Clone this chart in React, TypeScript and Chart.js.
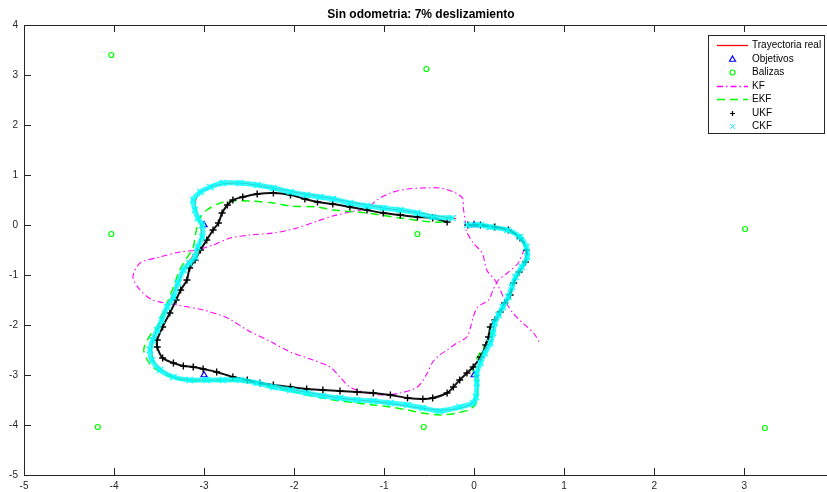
import React, { useEffect, useRef } from 'react';
import { Chart, registerables } from 'chart.js';

Chart.register(...registerables);

const xTickValues = [-5, -4, -3, -2, -1, 0, 1, 2, 3, 4];
const yTickValues = [-5, -4, -3, -2, -1, 0, 1, 2, 3, 4];

const realX = [-0.05, 0.1, 0.3, 0.5, 0.58, 0.57, 0.48, 0.41, 0.33, 0.24, 0.19, 0.1, 0.05, 0.04, 0.03, -0.05, -0.3, -0.6, -1.0, -1.5, -2.0, -2.4, -2.7, -3.1, -3.35, -3.55, -3.58, -3.5, -3.4, -3.3, -3.2, -3.08, -3.03, -3.05, -3.1, -3.05, -2.85, -2.6, -2.3, -2.0, -1.5, -1.0, -0.6, -0.3, -0.2];
const realY = [0.0, -0.01, -0.07, -0.22, -0.45, -0.7, -1.0, -1.3, -1.6, -1.9, -2.3, -2.6, -2.85, -3.1, -3.4, -3.6, -3.7, -3.66, -3.55, -3.46, -3.3, -3.17, -3.1, -3.1, -3.03, -2.75, -2.4, -2.0, -1.6, -1.2, -0.8, -0.5, -0.2, 0.1, 0.4, 0.64, 0.8, 0.84, 0.76, 0.66, 0.5, 0.34, 0.24, 0.15, 0.13];

const objX = [0, 0, -3, -3];
const objY = [0, -3, -3, 0];

const balX = [-4.03, -0.53, -4.03, -0.63, 3.01, -4.18, -0.56, 3.23];
const balY = [3.4, 3.12, -0.18, -0.18, -0.08, -4.04, -4.04, -4.06];

const kfX = [-0.07, 0.18, 0.37, 0.51, 0.57, 0.54, 0.49, 0.37, 0.27, 0.21, 0.16, 0.04, -0.01, -0.04, -0.08, -0.19, -0.3, -0.38, -0.46, -0.52, -0.63, -0.82, -1.01, -1.19, -1.38, -1.49, -1.6, -1.79, -2.04, -2.23, -2.52, -2.74, -3.01, -3.3, -3.57, -3.71, -3.79, -3.71, -3.49, -3.27, -3.08, -2.9, -2.71, -2.49, -2.23, -2.01, -1.74, -1.57, -1.38, -1.19, -1.08, -0.93, -0.74, -0.57, -0.38, -0.23, -0.13, -0.12, -0.1, -0.09, -0.01, 0.09, 0.14, 0.23, 0.29, 0.34, 0.43, 0.54, 0.66, 0.73];
const kfY = [0.0, -0.04, -0.12, -0.26, -0.44, -0.56, -0.76, -0.96, -1.1, -1.3, -1.5, -1.64, -1.84, -2.04, -2.24, -2.36, -2.5, -2.6, -2.74, -2.96, -3.24, -3.36, -3.4, -3.36, -3.24, -3.04, -2.84, -2.7, -2.54, -2.36, -2.1, -1.86, -1.7, -1.6, -1.5, -1.3, -1.04, -0.76, -0.64, -0.54, -0.5, -0.4, -0.26, -0.2, -0.16, -0.08, 0.08, 0.18, 0.26, 0.34, 0.5, 0.64, 0.72, 0.74, 0.74, 0.66, 0.54, 0.34, 0.1, -0.1, -0.36, -0.56, -0.9, -1.1, -1.3, -1.5, -1.76, -1.96, -2.16, -2.36];

const ekfX = [-0.07, 0.18, 0.37, 0.51, 0.58, 0.58, 0.52, 0.46, 0.41, 0.36, 0.29, 0.23, 0.2, 0.14, 0.07, 0.01, -0.01, 0.02, 0.04, 0.03, -0.04, -0.19, -0.38, -0.57, -0.74, -0.93, -1.12, -1.3, -1.49, -1.68, -1.86, -2.04, -2.23, -2.41, -2.6, -2.79, -2.97, -3.16, -3.34, -3.46, -3.57, -3.63, -3.67, -3.63, -3.58, -3.52, -3.48, -3.41, -3.34, -3.27, -3.19, -3.12, -3.1, -3.08, -3.04, -2.97, -2.82, -2.68, -2.49, -2.23, -2.04, -1.74, -1.57, -1.19, -0.82, -0.46, -0.3];
const ekfY = [0.0, -0.04, -0.12, -0.26, -0.46, -0.66, -0.86, -1.06, -1.3, -1.5, -1.7, -1.9, -2.1, -2.36, -2.54, -2.74, -2.9, -3.1, -3.34, -3.54, -3.68, -3.76, -3.8, -3.76, -3.7, -3.64, -3.6, -3.56, -3.52, -3.46, -3.4, -3.32, -3.26, -3.18, -3.12, -3.12, -3.12, -3.12, -3.06, -2.96, -2.84, -2.7, -2.5, -2.3, -2.16, -2.04, -1.84, -1.56, -1.24, -0.9, -0.66, -0.44, -0.24, -0.06, 0.16, 0.3, 0.44, 0.48, 0.48, 0.44, 0.38, 0.36, 0.3, 0.24, 0.14, 0.06, 0.06];

const ukfX = [-0.07, 0.07, 0.23, 0.38, 0.51, 0.58, 0.57, 0.5, 0.44, 0.4, 0.34, 0.29, 0.23, 0.18, 0.16, 0.13, 0.07, -0.01, -0.08, -0.16, -0.23, -0.3, -0.46, -0.57, -0.74, -0.93, -1.12, -1.3, -1.49, -1.68, -1.86, -2.04, -2.23, -2.38, -2.52, -2.68, -2.86, -3.01, -3.12, -3.23, -3.34, -3.46, -3.52, -3.52, -3.46, -3.38, -3.31, -3.26, -3.19, -3.16, -3.1, -3.04, -2.97, -2.9, -2.84, -2.8, -2.74, -2.68, -2.57, -2.41, -2.23, -2.04, -1.88, -1.74, -1.57, -1.38, -1.19, -1.01, -0.82, -0.63, -0.46, -0.3];
const ukfY = [0.0, 0.0, -0.04, -0.1, -0.26, -0.5, -0.74, -0.94, -1.16, -1.4, -1.56, -1.74, -1.9, -2.04, -2.24, -2.4, -2.64, -2.84, -2.96, -3.1, -3.24, -3.36, -3.46, -3.48, -3.46, -3.4, -3.36, -3.34, -3.32, -3.3, -3.28, -3.24, -3.2, -3.16, -3.1, -3.04, -2.94, -2.88, -2.84, -2.82, -2.76, -2.66, -2.44, -2.3, -2.04, -1.76, -1.5, -1.3, -1.1, -0.86, -0.7, -0.5, -0.3, -0.1, 0.04, 0.24, 0.4, 0.5, 0.56, 0.62, 0.64, 0.6, 0.52, 0.46, 0.42, 0.36, 0.3, 0.24, 0.2, 0.16, 0.14, 0.06];

const ckfX = [-0.08, 0.07, 0.18, 0.37, 0.51, 0.58, 0.59, 0.53, 0.46, 0.42, 0.38, 0.32, 0.27, 0.23, 0.21, 0.18, 0.12, 0.07, 0.03, 0.03, 0.02, -0.01, -0.16, -0.38, -0.57, -0.74, -0.93, -1.12, -1.3, -1.49, -1.68, -1.86, -2.04, -2.23, -2.41, -2.6, -2.79, -2.97, -3.16, -3.34, -3.49, -3.58, -3.6, -3.57, -3.52, -3.47, -3.41, -3.34, -3.29, -3.23, -3.16, -3.1, -3.07, -3.02, -3.02, -3.07, -3.1, -3.12, -3.04, -2.93, -2.79, -2.6, -2.41, -2.23, -2.04, -1.86, -1.71, -1.57, -1.38, -1.19, -1.01, -0.82, -0.63, -0.46, -0.24];
const ckfY = [0.0, 0.0, -0.04, -0.1, -0.24, -0.44, -0.64, -0.84, -1.04, -1.24, -1.44, -1.64, -1.8, -1.96, -2.16, -2.36, -2.56, -2.76, -2.96, -3.16, -3.44, -3.56, -3.64, -3.72, -3.66, -3.6, -3.56, -3.52, -3.5, -3.46, -3.42, -3.36, -3.3, -3.24, -3.16, -3.1, -3.1, -3.1, -3.1, -3.04, -2.9, -2.7, -2.5, -2.3, -2.1, -1.9, -1.64, -1.44, -1.16, -0.9, -0.76, -0.64, -0.44, -0.24, 0.0, 0.14, 0.3, 0.5, 0.66, 0.76, 0.84, 0.84, 0.8, 0.74, 0.66, 0.6, 0.56, 0.52, 0.44, 0.38, 0.34, 0.3, 0.24, 0.16, 0.14];

const zip = (xs: number[], ys: number[]) => xs.map((x, i) => ({ x, y: ys[i] }));

const AXIS_COLOR = '#262626';
const FONT_FAMILY = '"Liberation Sans", Arial, Helvetica, sans-serif';

function drawMarker(ctx: CanvasRenderingContext2D, style: string, cx: number, cy: number, r: number) {
  ctx.beginPath();
  if (style === 'triangle') {
    ctx.moveTo(cx, cy - r);
    ctx.lineTo(cx + r * 0.87, cy + r * 0.5);
    ctx.lineTo(cx - r * 0.87, cy + r * 0.5);
    ctx.closePath();
  } else if (style === 'circle') {
    ctx.arc(cx, cy, r, 0, Math.PI * 2);
  } else if (style === 'cross') {
    ctx.moveTo(cx - r, cy); ctx.lineTo(cx + r, cy);
    ctx.moveTo(cx, cy - r); ctx.lineTo(cx, cy + r);
  } else if (style === 'crossRot') {
    const d = r * 0.7;
    ctx.moveTo(cx - d, cy - d); ctx.lineTo(cx + d, cy + d);
    ctx.moveTo(cx - d, cy + d); ctx.lineTo(cx + d, cy - d);
  }
  ctx.stroke();
}

const matlabAxes = {
  id: 'matlabAxes',
  afterDatasetsDraw(chart: any) {
    const { ctx, chartArea: a, scales } = chart;
    const xs = scales.x, ys = scales.y;
    const L = 7;
    ctx.save();
    ctx.strokeStyle = AXIS_COLOR;
    ctx.lineWidth = 1;
    ctx.beginPath();
    ctx.rect(Math.round(a.left) + 0.5, Math.round(a.top) + 0.5, Math.round(a.right - a.left), Math.round(a.bottom - a.top));
    xs.ticks.forEach((t: any) => {
      const px = Math.round(xs.getPixelForValue(t.value)) + 0.5;
      ctx.moveTo(px, a.bottom); ctx.lineTo(px, a.bottom - L);
      ctx.moveTo(px, a.top); ctx.lineTo(px, a.top + L);
    });
    ys.ticks.forEach((t: any) => {
      const py = Math.round(ys.getPixelForValue(t.value)) + 0.5;
      ctx.moveTo(a.left, py); ctx.lineTo(a.left + L, py);
      ctx.moveTo(a.right, py); ctx.lineTo(a.right - L, py);
    });
    ctx.stroke();
    ctx.restore();
  },
};

const matlabLegend = {
  id: 'matlabLegend',
  afterDraw(chart: any) {
    const ctx: CanvasRenderingContext2D = chart.ctx;
    const L = 708, T = 35, R = 824, B = 133;
    ctx.save();
    ctx.fillStyle = '#ffffff';
    ctx.fillRect(L, T, R - L, B - T);
    ctx.strokeStyle = AXIS_COLOR;
    ctx.lineWidth = 1;
    ctx.strokeRect(L + 0.5, T + 0.5, R - L, B - T);
    ctx.font = `10px ${FONT_FAMILY}`;
    ctx.textBaseline = 'middle';
    ctx.textAlign = 'left';
    chart.data.datasets.forEach((ds: any, i: number) => {
      const yy = Math.round(45 + i * 13.5) + 0.5;
      if (ds.legendKind === 'line') {
        ctx.save();
        ctx.strokeStyle = ds.borderColor;
        ctx.lineWidth = Math.max(ds.borderWidth, 1.3);
        ctx.setLineDash(ds.borderDash || []);
        ctx.beginPath();
        ctx.moveTo(717, yy); ctx.lineTo(748, yy);
        ctx.stroke();
        ctx.restore();
      } else {
        ctx.save();
        ctx.strokeStyle = ds.pointBorderColor;
        ctx.lineWidth = ds.legendWidth || ds.pointBorderWidth;
        drawMarker(ctx, ds.pointStyle, 732.5, yy, ds.legendRadius || ds.pointRadius);
        ctx.restore();
      }
      ctx.fillStyle = '#000000';
      ctx.fillText(ds.label, 752, yy);
    });
    ctx.restore();
  },
};

export default function App() {
  const ref = useRef<HTMLCanvasElement | null>(null);

  useEffect(() => {
    if (!ref.current) return;
    const tickFont = { family: FONT_FAMILY, size: 10 };
    const chart = new Chart(ref.current, {
      type: 'scatter',
      data: {
        datasets: [
          {
            label: 'Trayectoria real', data: zip(realX, realY), showLine: true,
            borderColor: '#ff0000', borderWidth: 1, pointRadius: 0, tension: 0.3, order: 7,
            legendKind: 'line',
          } as any,
          {
            label: 'Objetivos', data: zip(objX, objY), showLine: false,
            pointStyle: 'triangle', pointRadius: 3.5, pointBorderColor: '#0000ff',
            pointBackgroundColor: 'rgba(0,0,0,0)', pointBorderWidth: 1.2, order: 6,
            legendKind: 'marker',
          } as any,
          {
            label: 'Balizas', data: zip(balX, balY), showLine: false,
            pointStyle: 'circle', pointRadius: 2.5, pointBorderColor: '#00ff00',
            pointBackgroundColor: 'rgba(0,0,0,0)', pointBorderWidth: 1.2, order: 5,
            legendKind: 'marker',
          } as any,
          {
            label: 'KF', data: zip(kfX, kfY), showLine: true,
            borderColor: '#ff00ff', borderWidth: 1.1, borderDash: [6, 3, 1.5, 3],
            pointRadius: 0, tension: 0.3, order: 4, legendKind: 'line',
          } as any,
          {
            label: 'EKF', data: zip(ekfX, ekfY), showLine: true,
            borderColor: '#00ff00', borderWidth: 1.5, borderDash: [8, 5],
            pointRadius: 0, tension: 0.3, order: 3, legendKind: 'line',
          } as any,
          {
            label: 'UKF', data: zip(ukfX, ukfY), showLine: true,
            borderColor: '#111111', borderWidth: 2, tension: 0.3,
            pointStyle: 'cross', pointRadius: 3.5, pointBorderColor: '#000000',
            pointBorderWidth: 1.4, order: 2, legendKind: 'marker', legendRadius: 2.5, legendWidth: 1.2,
          } as any,
          {
            label: 'CKF', data: zip(ckfX, ckfY), showLine: true,
            borderColor: 'rgba(0,255,255,0.8)', borderWidth: 5, tension: 0.3,
            pointStyle: 'crossRot', pointRadius: 4.5, pointBorderColor: '#00ffff',
            pointBorderWidth: 1.2, order: 1, legendKind: 'marker', legendRadius: 3.5, legendWidth: 1,
          } as any,
        ],
      },
      options: {
        responsive: false,
        animation: false,
        devicePixelRatio: 1,
        layout: { padding: 0 },
        plugins: {
          legend: { display: false },
          tooltip: { enabled: false },
          title: {
            display: true,
            text: 'Sin odometria: 7% deslizamiento',
            color: '#000000',
            font: { family: FONT_FAMILY, size: 12, weight: 'bold' },
            padding: { top: 7, bottom: 3.6 },
          },
        },
        scales: {
          x: {
            type: 'linear', min: -5, max: 4,
            grid: { display: false, drawTicks: false },
            border: { display: false },
            ticks: { color: AXIS_COLOR, font: tickFont, padding: 5, maxRotation: 0 },
            afterBuildTicks: (s: any) => { s.ticks = xTickValues.map((v) => ({ value: v })); },
            afterFit: (s: any) => { s.height = 17; },
          },
          y: {
            type: 'linear', min: -5, max: 4,
            grid: { display: false, drawTicks: false },
            border: { display: false },
            ticks: { color: AXIS_COLOR, font: tickFont, padding: 6 },
            afterBuildTicks: (s: any) => { s.ticks = yTickValues.map((v) => ({ value: v })); },
            afterFit: (s: any) => { s.width = 24; },
          },
        },
      } as any,
      plugins: [matlabAxes, matlabLegend],
    });
    return () => chart.destroy();
  }, []);

  return (
    <div style={{ position: 'fixed', left: 0, top: 0, width: 827, height: 492, overflow: 'hidden', background: '#fff' }}>
      <canvas ref={ref} width={842} height={492} style={{ width: 842, height: 492, display: 'block' }} />
    </div>
  );
}
